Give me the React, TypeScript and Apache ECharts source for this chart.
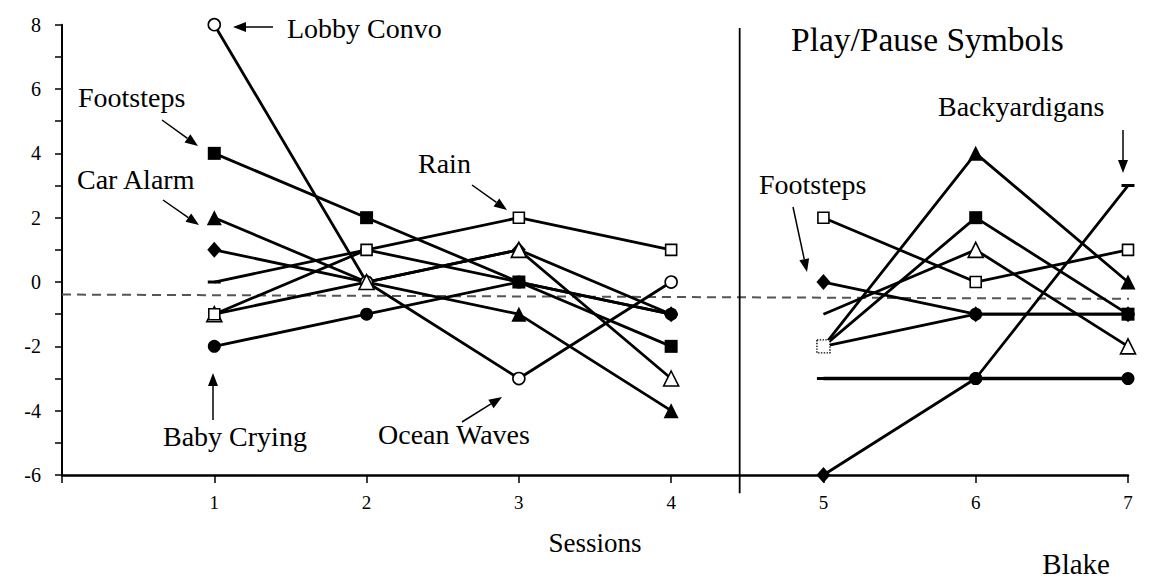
import React, { useEffect, useRef } from 'react';
import * as echarts from 'echarts';

const FONT = 'Liberation Serif';

// ---- data ----
const leftSessions = [1, 2, 3, 4];
const rightSessions = [5, 6, 7];

// Baseline phase (sessions 1-4)
const lobbyConvo = [8, 0, -3, 0];
const footstepsL = [4, 2, 0, -2];
const carAlarm = [2, 0, -1, -4];
const diamondL = [1, 0, 1, -1];
const dashL = [0, 1, 0, -1];
const rain = [-1, 1, 2, 1];
const oceanWaves = [-1, 0, 1, -3];
const babyCrying = [-2, -1, 0, -1];

// Play/Pause Symbols phase (sessions 5-7)
const footstepsR = [0, -1, -1];
const openSquareR = [2, 0, 1];
const openTriR = [-1, 1, -2];
const filledTriR = [-2, 4, 0];
const filledSquareR = [-2, 2, -1];
const filledCircleR = [-2, -1, -1];
const flatR = [-3, -3, -3];
const backyardigans = [-6, -3, 3];

// reference lines
const phaseChangeX = 4.45;
const phaseLineY = [7.9, -6.57];
const trendX = [0, 7.315];
const trendY = [-0.39, -0.53];

const yTicks = [-6, -4, -2, 0, 2, 4, 6, 8];

type Mk = 'fsq' | 'osq' | 'ftri' | 'otri' | 'fcir' | 'ocir' | 'dia' | 'dash' | 'dsq' | 'none';

interface Def { x: number[]; y: number[]; marks: Mk[]; width?: number }

// order = drawing order of markers (later on top)
const defs: Def[] = [
  { x: leftSessions, y: dashL, marks: ['dash', 'dash', 'dash', 'dash'] },
  { x: leftSessions, y: babyCrying, marks: ['fcir', 'fcir', 'fcir', 'fcir'] },
  { x: leftSessions, y: diamondL, marks: ['dia', 'dia', 'dia', 'dia'] },
  { x: leftSessions, y: carAlarm, marks: ['ftri', 'ftri', 'ftri', 'ftri'] },
  { x: leftSessions, y: lobbyConvo, marks: ['ocir', 'ocir', 'ocir', 'ocir'] },
  { x: leftSessions, y: footstepsL, marks: ['fsq', 'fsq', 'fsq', 'fsq'] },
  { x: leftSessions, y: oceanWaves, marks: ['otri', 'otri', 'otri', 'otri'] },
  { x: leftSessions, y: rain, marks: ['osq', 'osq', 'osq', 'osq'] },

  { x: rightSessions, y: footstepsR, marks: ['dia', 'dia', 'dia'] },
  { x: rightSessions, y: openSquareR, marks: ['osq', 'osq', 'osq'] },
  { x: rightSessions, y: openTriR, marks: ['none', 'otri', 'otri'] },
  { x: rightSessions, y: filledTriR, marks: ['none', 'ftri', 'ftri'] },
  { x: rightSessions, y: filledCircleR, marks: ['none', 'fcir', 'fcir'] },
  { x: rightSessions, y: filledSquareR, marks: ['dsq', 'fsq', 'fsq'] },
  { x: rightSessions, y: flatR, marks: ['dash', 'fcir', 'fcir'], width: 3.4 },
  { x: rightSessions, y: backyardigans, marks: ['dia', 'fcir', 'dash'] },
];

function markerItem(kind: Mk, x: number, y: number): any {
  const v = [x, y];
  const filled = { color: '#000', opacity: 1 };
  const open = { color: '#fff', borderColor: '#000', borderWidth: 1.6, opacity: 1 };
  switch (kind) {
    case 'fsq': return { value: v, symbol: 'rect', symbolSize: 13, itemStyle: filled };
    case 'osq': return { value: v, symbol: 'rect', symbolSize: 11, itemStyle: open };
    case 'ftri': return { value: v, symbol: 'triangle', symbolSize: 15, itemStyle: filled };
    case 'otri': return { value: v, symbol: 'triangle', symbolSize: 15, itemStyle: open };
    case 'fcir': return { value: v, symbol: 'circle', symbolSize: 13, itemStyle: filled };
    case 'ocir': return { value: v, symbol: 'circle', symbolSize: 12, itemStyle: open };
    case 'dia': return { value: v, symbol: 'diamond', symbolSize: [14, 16], itemStyle: filled };
    case 'dash': return { value: v, symbol: 'rect', symbolSize: [13, 3], itemStyle: filled };
    case 'dsq': return { value: v, symbol: 'rect', symbolSize: 13, itemStyle: { color: '#fff', borderColor: '#000', borderWidth: 1.4, borderType: 'dotted', opacity: 1 } };
    default: return null;
  }
}

function arrow(x1: number, y1: number, x2: number, y2: number): any {
  const ang = Math.atan2(y2 - y1, x2 - x1);
  const L = 13, W = 5;
  const bx = x2 - L * Math.cos(ang);
  const by = y2 - L * Math.sin(ang);
  const sx = Math.sin(ang), cx = Math.cos(ang);
  return {
    type: 'group',
    children: [
      { type: 'line', shape: { x1, y1, x2: bx, y2: by }, style: { stroke: '#000', lineWidth: 1.5 } },
      {
        type: 'polygon',
        shape: { points: [[x2, y2], [bx + W * sx, by - W * cx], [bx - W * sx, by + W * cx]] },
        style: { fill: '#000' },
      },
    ],
  };
}

function label(text: string, x: number, y: number, size = 28, align = 'left'): any {
  return {
    type: 'text',
    x, y,
    style: { text, fontFamily: FONT, fontSize: size, fill: '#000', textAlign: align, textVerticalAlign: 'middle' },
  };
}

export default function App() {
  const ref = useRef<HTMLDivElement>(null);
  useEffect(() => {
    const chart = echarts.init(ref.current!, null, { renderer: 'svg' });
    const series: any[] = [];
    // reference dashed line
    series.push({
      type: 'line', data: trendX.map((x, i) => [x, trendY[i]]), symbol: 'none', clip: false, silent: true, z: 1,
      lineStyle: { color: '#555', width: 2, type: [9, 6] },
    });
    // phase change line
    series.push({
      type: 'line', data: phaseLineY.map((y) => [phaseChangeX, y]), symbol: 'none', clip: false, silent: true, z: 1,
      lineStyle: { color: '#000', width: 1.8 },
    });
    defs.forEach((d) => {
      series.push({
        type: 'line', data: d.x.map((x, i) => [x, d.y[i]]), symbol: 'none', silent: true, z: 2,
        lineStyle: { color: '#000', width: d.width ?? 2.8 },
      });
    });
    defs.forEach((d) => {
      series.push({
        type: 'scatter', silent: true, z: 3,
        itemStyle: { opacity: 1 },
        data: d.x.map((x, i) => markerItem(d.marks[i], x, d.y[i])).filter((m) => m),
      });
    });

    chart.setOption({
      animation: false,
      backgroundColor: '#fff',
      grid: { left: 62, right: 48, top: 24.7, bottom: 107 },
      xAxis: {
        type: 'value', min: 0, max: 7, interval: 1,
        axisLine: { onZero: false, lineStyle: { color: '#000', width: 2.5 } },
        axisTick: { length: 8, lineStyle: { color: '#000', width: 1.5 } },
        axisLabel: { formatter: (v: number) => (v === 0 ? '' : String(v)), color: '#000', fontFamily: FONT, fontSize: 19, margin: 18 },
        splitLine: { show: false },
        name: 'Sessions', nameLocation: 'middle', nameGap: 54,
        nameTextStyle: { color: '#000', fontFamily: FONT, fontSize: 27 },
      },
      yAxis: {
        type: 'value', min: -6, max: 8, interval: 1,
        axisLine: { show: true, onZero: false, lineStyle: { color: '#000', width: 2 } },
        axisTick: { show: true, length: 7, lineStyle: { color: '#000', width: 1.5 } },
        axisLabel: { formatter: (v: number) => (yTicks.includes(v) ? String(v) : ''), color: '#000', fontFamily: FONT, fontSize: 20, margin: 21 },
        splitLine: { show: false },
      },
      graphic: [
        label('Lobby Convo', 287, 28.5),
        arrow(273, 27, 233, 27),
        label('Footsteps', 78, 97),
        arrow(162, 120, 198, 146),
        label('Car Alarm', 77, 179),
        arrow(163, 200, 199, 225),
        label('Rain', 418, 163),
        arrow(472, 185, 507, 210),
        label('Ocean Waves', 378, 434),
        arrow(462, 422, 502, 397),
        label('Baby Crying', 163, 436),
        arrow(213, 420, 213, 373),
        label('Play/Pause Symbols', 791, 39, 33.5),
        label('Backyardigans', 938, 106),
        arrow(1123, 130, 1123, 173),
        label('Footsteps', 759, 184),
        arrow(793, 207, 807, 272),
        label('Blake', 1110, 564, 29, 'right'),
      ],
      series,
    });
    return () => chart.dispose();
  }, []);
  return <div ref={ref} style={{ position: 'fixed', left: 0, top: 0, width: 1176, height: 582, background: '#fff' }} />;
}
